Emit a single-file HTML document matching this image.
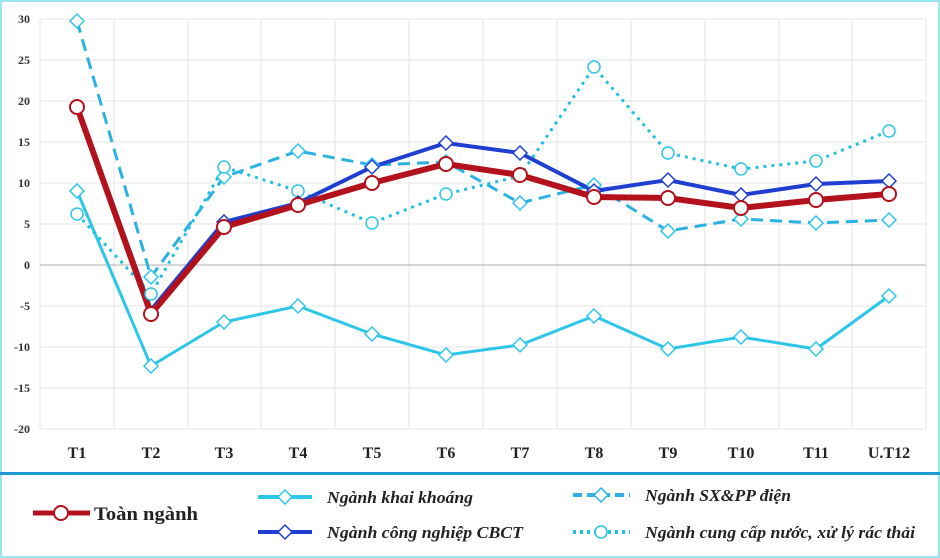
<!DOCTYPE html>
<html><head><meta charset="utf-8"><style>
html,body{margin:0;padding:0;background:#fff;}
svg{display:block;}
text{font-family:"Liberation Serif",serif;font-weight:bold;}
</style></head><body>
<svg width="940" height="558" viewBox="0 0 940 558">
<rect x="1" y="1" width="938" height="556" fill="#fff" stroke="#9ae6f5" stroke-width="2"/>
<line x1="0" y1="473.5" x2="940" y2="473.5" stroke="#1e9ad6" stroke-width="3"/>
<g stroke="#e4e4e4" stroke-width="1">
<line x1="40" y1="19" x2="926" y2="19"/><line x1="40" y1="60" x2="926" y2="60"/>
<line x1="40" y1="101" x2="926" y2="101"/><line x1="40" y1="142" x2="926" y2="142"/>
<line x1="40" y1="183" x2="926" y2="183"/><line x1="40" y1="224" x2="926" y2="224"/>
<line x1="40" y1="306" x2="926" y2="306"/><line x1="40" y1="347" x2="926" y2="347"/>
<line x1="40" y1="388" x2="926" y2="388"/><line x1="40" y1="429" x2="926" y2="429"/>
<line x1="40" y1="19" x2="40" y2="429"/><line x1="114" y1="19" x2="114" y2="429"/>
<line x1="188" y1="19" x2="188" y2="429"/><line x1="261" y1="19" x2="261" y2="429"/>
<line x1="335" y1="19" x2="335" y2="429"/><line x1="409" y1="19" x2="409" y2="429"/>
<line x1="483" y1="19" x2="483" y2="429"/><line x1="557" y1="19" x2="557" y2="429"/>
<line x1="631" y1="19" x2="631" y2="429"/><line x1="705" y1="19" x2="705" y2="429"/>
<line x1="779" y1="19" x2="779" y2="429"/><line x1="852" y1="19" x2="852" y2="429"/>
<line x1="926" y1="19" x2="926" y2="429"/>
</g>
<line x1="40" y1="265" x2="926" y2="265" stroke="#bdbdbd" stroke-width="1.2"/>
<g font-size="12" fill="#333" text-anchor="end">
<text x="30" y="23">30</text><text x="30" y="64">25</text><text x="30" y="105">20</text>
<text x="30" y="146">15</text><text x="30" y="187">10</text><text x="30" y="228">5</text>
<text x="30" y="269">0</text><text x="30" y="310">-5</text><text x="30" y="351">-10</text>
<text x="30" y="392">-15</text><text x="30" y="433">-20</text>
</g>
<g font-size="16" fill="#222" text-anchor="middle">
<text x="77" y="458">T1</text><text x="151" y="458">T2</text><text x="224" y="458">T3</text>
<text x="298" y="458">T4</text><text x="372" y="458">T5</text><text x="446" y="458">T6</text>
<text x="520" y="458">T7</text><text x="594" y="458">T8</text><text x="668" y="458">T9</text>
<text x="741" y="458">T10</text><text x="816" y="458">T11</text><text x="889" y="458">U.T12</text>
</g>
<polyline fill="none" stroke="#2cc6ea" stroke-width="3" points="77,191 151,366 224,322 298,306 372,334 446,355 520,345 594,316 668,349 741,337 816,349 889,296"/>
<polyline fill="none" stroke="#2ab2e2" stroke-width="3" stroke-dasharray="12,7" points="77,21 151,277 224,177 298,151 372,165 446,162 520,203 594,185 668,231 741,219 816,223 889,220"/>
<polyline fill="none" stroke="#22c0e0" stroke-width="3" stroke-dasharray="3,5" points="77,214 151,294 224,167 298,191 372,223 446,194 520,176 594,67 668,153 741,169 816,161 889,131"/>
<polyline fill="none" stroke="#1f3fd0" stroke-width="4" points="77,105 151,310 224,222 298,203 372,167 446,143 520,153 594,191 668,180 741,195 816,184 889,181"/>
<polyline fill="none" stroke="#b3121c" stroke-width="6" points="77,107 151,314 224,227 298,205 372,183 446,164 520,175 594,197 668,198 741,208 816,200 889,194"/>
<g fill="#fff" stroke="#2cc6ea" stroke-width="1.5">
<path d="M77,184l7,7-7,7-7-7z"/><path d="M151,359l7,7-7,7-7-7z"/><path d="M224,315l7,7-7,7-7-7z"/><path d="M298,299l7,7-7,7-7-7z"/><path d="M372,327l7,7-7,7-7-7z"/><path d="M446,348l7,7-7,7-7-7z"/><path d="M520,338l7,7-7,7-7-7z"/><path d="M594,309l7,7-7,7-7-7z"/><path d="M668,342l7,7-7,7-7-7z"/><path d="M741,330l7,7-7,7-7-7z"/><path d="M816,342l7,7-7,7-7-7z"/><path d="M889,289l7,7-7,7-7-7z"/>
<path d="M77,14l7,7-7,7-7-7z"/><path d="M151,270l7,7-7,7-7-7z"/><path d="M224,170l7,7-7,7-7-7z"/><path d="M298,144l7,7-7,7-7-7z"/><path d="M372,158l7,7-7,7-7-7z"/><path d="M446,155l7,7-7,7-7-7z"/><path d="M520,196l7,7-7,7-7-7z"/><path d="M594,178l7,7-7,7-7-7z"/><path d="M668,224l7,7-7,7-7-7z"/><path d="M741,212l7,7-7,7-7-7z"/><path d="M816,216l7,7-7,7-7-7z"/><path d="M889,213l7,7-7,7-7-7z"/>
<circle cx="77" cy="214" r="6"/><circle cx="151" cy="294" r="6"/><circle cx="224" cy="167" r="6"/><circle cx="298" cy="191" r="6"/><circle cx="372" cy="223" r="6"/><circle cx="446" cy="194" r="6"/><circle cx="520" cy="176" r="6"/><circle cx="594" cy="67" r="6"/><circle cx="668" cy="153" r="6"/><circle cx="741" cy="169" r="6"/><circle cx="816" cy="161" r="6"/><circle cx="889" cy="131" r="6"/>
</g>
<g fill="#fff" stroke="#1f3fd0" stroke-width="1.5">
<path d="M224,215l7,7-7,7-7-7z"/><path d="M298,196l7,7-7,7-7-7z"/><path d="M372,160l7,7-7,7-7-7z"/><path d="M446,136l7,7-7,7-7-7z"/><path d="M520,146l7,7-7,7-7-7z"/><path d="M594,184l7,7-7,7-7-7z"/><path d="M668,173l7,7-7,7-7-7z"/><path d="M741,188l7,7-7,7-7-7z"/><path d="M816,177l7,7-7,7-7-7z"/><path d="M889,174l7,7-7,7-7-7z"/>
</g>
<g fill="#fff" stroke="#b3121c" stroke-width="2">
<circle cx="77" cy="107" r="7"/><circle cx="151" cy="314" r="7"/><circle cx="224" cy="227" r="7"/><circle cx="298" cy="205" r="7"/><circle cx="372" cy="183" r="7"/><circle cx="446" cy="164" r="7"/><circle cx="520" cy="175" r="7"/><circle cx="594" cy="197" r="7"/><circle cx="668" cy="198" r="7"/><circle cx="741" cy="208" r="7"/><circle cx="816" cy="200" r="7"/><circle cx="889" cy="194" r="7"/>
</g>
<!-- legend -->
<line x1="33" y1="513" x2="90" y2="513" stroke="#b3121c" stroke-width="5"/>
<circle cx="61" cy="513" r="7" fill="#fff" stroke="#b3121c" stroke-width="2"/>
<text x="94" y="520" font-size="19" fill="#222" textLength="104" lengthAdjust="spacingAndGlyphs">Toàn ngành</text>
<line x1="258" y1="497" x2="312" y2="497" stroke="#2cc6ea" stroke-width="4"/>
<path d="M285,490l7,7-7,7-7-7z" fill="#fff" stroke="#2cc6ea" stroke-width="1.5"/>
<text x="327" y="503" font-size="17" font-style="italic" fill="#222" textLength="146" lengthAdjust="spacingAndGlyphs">Ngành khai khoáng</text>
<line x1="258" y1="532" x2="312" y2="532" stroke="#1f3fd0" stroke-width="4"/>
<path d="M285,525l7,7-7,7-7-7z" fill="#fff" stroke="#1f3fd0" stroke-width="1.5"/>
<text x="327" y="538" font-size="17" font-style="italic" fill="#222" textLength="196" lengthAdjust="spacingAndGlyphs">Ngành công nghiệp CBCT</text>
<line x1="573" y1="495" x2="630" y2="495" stroke="#2ab2e2" stroke-width="4" stroke-dasharray="9,5"/>
<path d="M601,488l7,7-7,7-7-7z" fill="#fff" stroke="#2ab2e2" stroke-width="1.5"/>
<text x="645" y="501" font-size="17" font-style="italic" fill="#222" textLength="146" lengthAdjust="spacingAndGlyphs">Ngành SX&amp;PP điện</text>
<line x1="573" y1="532" x2="630" y2="532" stroke="#22c0e0" stroke-width="4" stroke-dasharray="3,4"/>
<circle cx="601" cy="532" r="6" fill="#fff" stroke="#22c0e0" stroke-width="1.5"/>
<text x="645" y="538" font-size="17" font-style="italic" fill="#222" textLength="270" lengthAdjust="spacingAndGlyphs">Ngành cung cấp nước, xử lý rác thải</text>
</svg>
</body></html>
